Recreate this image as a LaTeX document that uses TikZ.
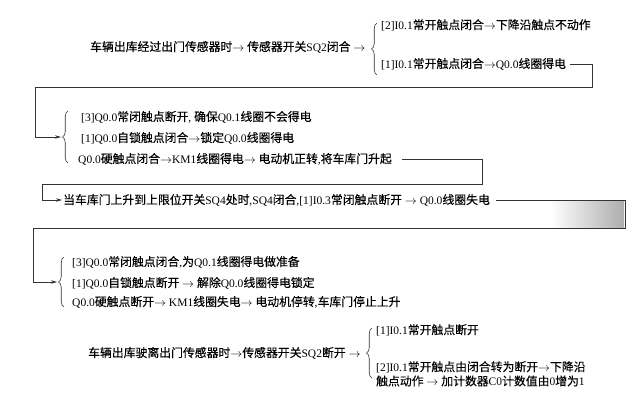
\documentclass[tikz,border=0pt]{standalone}
\usepackage{fontspec}
\setmainfont{Liberation Serif}
\newfontfamily\cjk{Noto Sans CJK SC}[Scale=1.03,FakeBold=0.2]
\usetikzlibrary{decorations.pathreplacing,arrows.meta}
\newcommand\zh[1]{{\cjk #1}}
\newcommand\rarr{\ensuremath{\rightarrow}}
\begin{document}
\begin{tikzpicture}[x=1pt,y=-1pt,
  txt/.style={anchor=west,inner sep=0pt,font=\fontsize{11.5}{14}\selectfont,text=black},
  wire/.style={draw=black!80,line width=0.7pt},
  arr/.style={wire,-{Stealth[length=6pt,width=3.5pt]}},
  brc/.style={draw=black!80,line width=0.6pt,decorate,decoration={brace,amplitude=5.5pt}}]
\useasboundingbox (0,0) rectangle (640,404);
\fill[white] (0,0) rectangle (640,404);
\shade[left color=white,right color=black!32] (550,200) rectangle (624,227);

% row 1
\node[txt] (r1) at (90,47) {\zh{车辆出库经过出门传感器时}\rarr\ \zh{传感器开关}SQ2\zh{闭合} \rarr};
\draw[brc] (377,75) -- (377,23);
\node[txt] (b2) at (381,25) {[2]I0.1\zh{常开触点闭合}\rarr\zh{下降沿触点不动作}};
\node[txt] (b1) at (381,64) {[1]I0.1\zh{常开触点闭合}\rarr Q0.0\zh{线圈得电}};
\coordinate (k1) at (592,87);
\coordinate (k2) at (35,87);
\coordinate (t2) at (61,137);
\draw[arr] ([xshift=4pt]b1.east) -| (k1) -- (k2) |- (t2);

% row 2
\draw[brc] (68,163) -- (68,111);
\node[txt] (c3) at (81,117) {[3]Q0.0\zh{常闭触点断开}, \zh{确保}Q0.1\zh{线圈不会得电}};
\node[txt] (c1) at (81,138) {[1]Q0.0\zh{自锁触点闭合}\rarr\zh{锁定}Q0.0\zh{线圈得电}};
\node[txt] (c0) at (78,159) {Q0.0\zh{硬触点闭合}\rarr KM1\zh{线圈得电}\rarr\ \zh{电动机正转},\zh{将车库门升起}};
\coordinate (k3) at (482,184);
\coordinate (k4) at (42,184);
\coordinate (t3) at (62,200);
\draw[arr] ([xshift=10pt]c0.east) -| (k3) -- (k4) |- (t3);

% row 3
\node[txt] (d) at (63,200) {\zh{当车库门上升到上限位开关}SQ4\zh{处时},SQ4\zh{闭合},[1]I0.3\zh{常闭触点断开} \rarr\ Q0.0\zh{线圈失电}};
\coordinate (k5) at (625,228);
\coordinate (k6) at (33,228);
\coordinate (t4) at (57,282);
\draw[arr] ([xshift=6pt]d.east) -| (k5) -- (k6) |- (t4);

% row 4
\draw[brc] (64,307) -- (64,257);
\node[txt] (e3) at (72,262) {[3]Q0.0\zh{常闭触点闭合},\zh{为}Q0.1\zh{线圈得电做准备}};
\node[txt] (e1) at (72,283) {[1]Q0.0\zh{自锁触点断开} \rarr\ \zh{解除}Q0.0\zh{线圈得电锁定}};
\node[txt] (e0) at (72,302) {Q0.0\zh{硬触点断开}\rarr\ KM1\zh{线圈失电}\rarr\ \zh{电动机停转},\zh{车库门停止上升}};

% row 5
\node[txt] (f) at (88,353) {\zh{车辆出库驶离出门传感器时}\rarr\zh{传感器开关}SQ2\zh{断开} \rarr};
\draw[brc] (372,378) -- (372,328);
\node[txt] (g1) at (376,330) {[1]I0.1\zh{常开触点断开}};
\node[txt] (g2) at (376,367) {[2]I0.1\zh{常开触点由闭合转为断开}\rarr\zh{下降沿}};
\node[txt] (g3) at (376,381) {\zh{触点动作} \rarr\ \zh{加计数器}C0\zh{计数值由}0\zh{增为}1};
\end{tikzpicture}
\end{document}
